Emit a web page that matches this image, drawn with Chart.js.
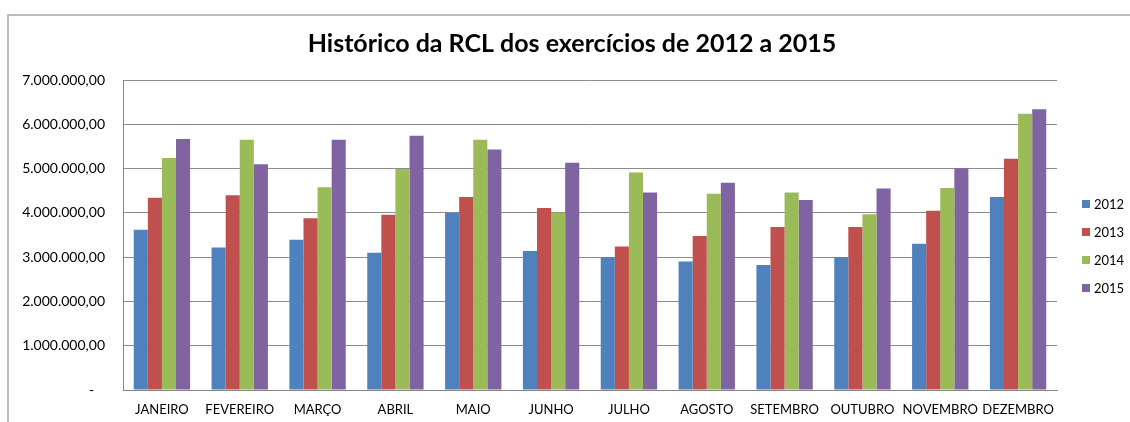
<!DOCTYPE html>
<html>
<head>
<meta charset="utf-8">
<script src="https://cdn.jsdelivr.net/npm/chart.js@4.4.1/dist/chart.umd.min.js"></script>
<style>
  html, body { margin: 0; padding: 0; background: #ffffff; }
  #wrap { width: 1130px; height: 422px; position: relative; }
</style>
</head>
<body>
<div id="wrap"><canvas id="c" width="1130" height="422"></canvas></div>
<script>
const chartTitle = "Histórico da RCL dos exercícios de 2012 a 2015";
const months = ["JANEIRO","FEVEREIRO","MARÇO","ABRIL","MAIO","JUNHO","JULHO","AGOSTO","SETEMBRO","OUTUBRO","NOVEMBRO","DEZEMBRO"];
const seriesNames = ["2012","2013","2014","2015"];
const v2012 = [3620000,3220000,3390000,3100000,4000000,3140000,3000000,2900000,2820000,3000000,3300000,4360000];
const v2013 = [4340000,4400000,3880000,3960000,4360000,4110000,3240000,3480000,3680000,3680000,4050000,5220000];
const v2014 = [5240000,5650000,4580000,4990000,5650000,4000000,4910000,4430000,4460000,3970000,4560000,6240000];
const v2015 = [5670000,5100000,5650000,5740000,5430000,5130000,4460000,4680000,4290000,4550000,5010000,6340000];
const yTickLabels = ["-   ","1.000.000,00","2.000.000,00","3.000.000,00","4.000.000,00","5.000.000,00","6.000.000,00","7.000.000,00"];
const colors = ["#4F81BD","#C0504D","#9BBB59","#8064A2"];

const FONT = "Lato, 'Open Sans', 'Liberation Sans', sans-serif";

const framePlugin = {
  id: 'frame',
  beforeDraw(chart) {
    const ctx = chart.ctx;
    ctx.save();
    ctx.strokeStyle = '#a6a6a6';
    ctx.lineWidth = 1.5;
    ctx.beginPath();
    ctx.moveTo(8, 422);
    ctx.lineTo(8, 15);
    ctx.lineTo(1130, 15);
    ctx.stroke();
    ctx.restore();
  },
  afterDraw(chart) {
    const ctx = chart.ctx;
    ctx.save();
    ctx.fillStyle = '#000';
    ctx.font = "bold 25px " + FONT;
    ctx.textAlign = 'center';
    ctx.textBaseline = 'middle';
    ctx.fillText(chartTitle, 572, 44);
    ctx.font = "13px " + FONT;
    ctx.textAlign = 'left';
    chart.data.datasets.forEach((ds, i) => {
      const y = 204 + i * 28;
      ctx.fillStyle = ds.backgroundColor;
      ctx.fillRect(1082, y - 4, 8, 8);
      ctx.fillStyle = '#000';
      ctx.fillText(ds.label, 1094, y + 0.5);
    });
    ctx.restore();
  }
};

const seriesValues = [v2012, v2013, v2014, v2015];

new Chart(document.getElementById('c'), {
  type: 'bar',
  data: {
    labels: months,
    datasets: seriesNames.map((n, i) => ({
      label: n,
      data: seriesValues[i],
      backgroundColor: colors[i],
      borderWidth: 0,
      categoryPercentage: 0.724,
      barPercentage: 1.0
    }))
  },
  options: {
    responsive: false,
    animation: false,
    devicePixelRatio: 1,
    layout: { padding: { top: 80, right: 73, bottom: 0, left: 0 } },
    plugins: {
      legend: { display: false },
      title: { display: false },
      tooltip: { enabled: false }
    },
    scales: {
      x: {
        afterFit(scale) { scale.height = 32; },
        grid: { display: false, drawTicks: false },
        border: { display: true, color: '#868686', width: 1 },
        ticks: { color: '#000', font: { family: FONT, size: 13 }, padding: 12, maxRotation: 0, autoSkip: false }
      },
      y: {
        min: 0, max: 7000000,
        afterFit(scale) { scale.width = 123; },
        grid: { color: '#8c8c8c', lineWidth: 1, drawTicks: false },
        border: { display: true, color: '#868686', width: 1 },
        ticks: {
          stepSize: 1000000,
          color: '#000',
          font: { family: FONT, size: 14 },
          padding: 18,
          callback: (v, idx) => yTickLabels[idx]
        }
      }
    }
  },
  plugins: [framePlugin]
});
</script>
</body>
</html>
